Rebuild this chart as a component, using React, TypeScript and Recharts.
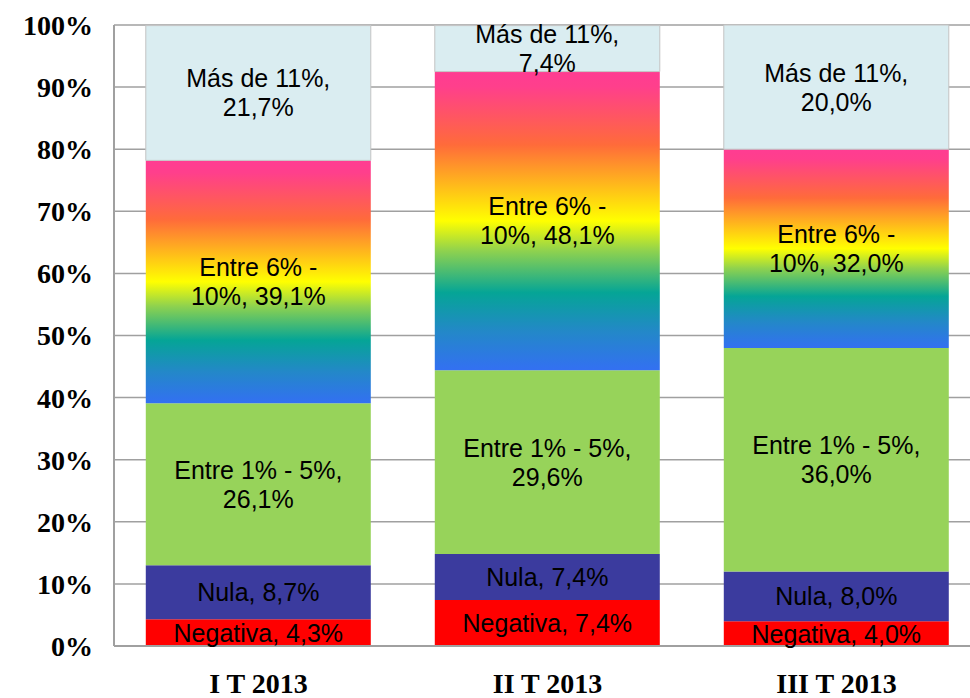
import { Bar, BarChart, CartesianGrid, LabelList, XAxis, YAxis } from 'recharts';

const categories = ['I T 2013', 'II T 2013', 'III T 2013'];
const negativa = [4.3, 7.4, 4.0];
const nula = [8.7, 7.4, 8.0];
const entre1a5 = [26.1, 29.6, 36.0];
const entre6a10 = [39.1, 48.1, 32.0];
const masDe11 = [21.7, 7.4, 20.0];
const yTicks = [0, 10, 20, 30, 40, 50, 60, 70, 80, 90, 100];

// label lines per series; the value goes at the end of the last line
const series = [
  { key: 'negativa', fill: '#ff0000', lines: ['Negativa, '] },
  { key: 'nula', fill: '#3b3b9e', lines: ['Nula, '] },
  { key: 'entre1a5', fill: '#97d35a', lines: ['Entre 1% - 5%,', ''] },
  { key: 'entre6a10', fill: 'url(#rainbow)', lines: ['Entre 6% -', '10%, '] },
  { key: 'masDe11', fill: '#daedf1', lines: ['Más de 11%,', ''] },
];

const data = categories.map((name, i) => ({
  name,
  negativa: negativa[i],
  nula: nula[i],
  entre1a5: entre1a5[i],
  entre6a10: entre6a10[i],
  masDe11: masDe11[i],
}));

const fmt = (v: number) => v.toFixed(1).replace('.', ',') + '%';

const makeLabel = (lines: string[]) => (props: any) => {
  const { x, y, width, height, value } = props;
  const cx = Number(x) + Number(width) / 2;
  const cy = Number(y) + Number(height) / 2;
  const lh = 29;
  const full = lines.map((l, i) => (i === lines.length - 1 ? l + fmt(Number(value)) : l));
  const startY = cy - ((full.length - 1) * lh) / 2;
  return (
    <text
      x={cx}
      y={startY}
      textAnchor="middle"
      fontFamily="'Liberation Sans', Arial, sans-serif"
      fontSize={25}
      fill="#000"
    >
      {full.map((l, i) => (
        <tspan key={i} x={cx} y={startY + i * lh} dy="0.36em">
          {l}
        </tspan>
      ))}
    </text>
  );
};

export default function App() {
  return (
    <div
      style={{
        position: 'fixed',
        left: 0,
        top: 0,
        width: 970,
        height: 698,
        overflow: 'hidden',
        background: '#fff',
      }}
    >
      <BarChart
        width={990}
        height={698}
        data={data}
        margin={{ top: 25, right: 9, left: 0, bottom: 0 }}
        barCategoryGap="11%"
      >
        <defs>
          <linearGradient id="rainbow" x1="0" y1="0" x2="0" y2="1">
            <stop offset="0" stopColor="#ff3c92" />
            <stop offset="0.05" stopColor="#ff3f8c" />
            <stop offset="0.245" stopColor="#ff6b3a" />
            <stop offset="0.5" stopColor="#ffff00" />
            <stop offset="0.6" stopColor="#8fd24e" />
            <stop offset="0.74" stopColor="#05a596" />
            <stop offset="0.87" stopColor="#2388c8" />
            <stop offset="1" stopColor="#3370f2" />
          </linearGradient>
        </defs>
        <CartesianGrid vertical={false} stroke="#a0a0a0" strokeWidth={1.5} />
        <XAxis
          dataKey="name"
          height={52}
          tickLine={false}
          tickSize={0}
          tickMargin={27}
          axisLine={{ stroke: '#a0a0a0', strokeWidth: 2 }}
          tick={{ fill: '#000', fontSize: 28, fontWeight: 'bold', fontFamily: "'Liberation Serif', serif" }}
        />
        <YAxis
          width={114}
          domain={[0, 100]}
          ticks={yTicks}
          tickFormatter={(v: number) => `${v}%`}
          tickLine={false}
          tickSize={0}
          tickMargin={21}
          axisLine={{ stroke: '#a0a0a0', strokeWidth: 2 }}
          tick={{ fill: '#000', fontSize: 28, fontWeight: 'bold', fontFamily: "'Liberation Serif', serif" }}
        />
        {series.map((s) => (
          <Bar
            key={s.key}
            dataKey={s.key}
            stackId="a"
            fill={s.fill}
            stroke={s.key === 'masDe11' ? '#c4c4c4' : 'none'}
            strokeWidth={1}
            isAnimationActive={false}
          >
            <LabelList dataKey={s.key} content={makeLabel(s.lines)} />
          </Bar>
        ))}
      </BarChart>
    </div>
  );
}
